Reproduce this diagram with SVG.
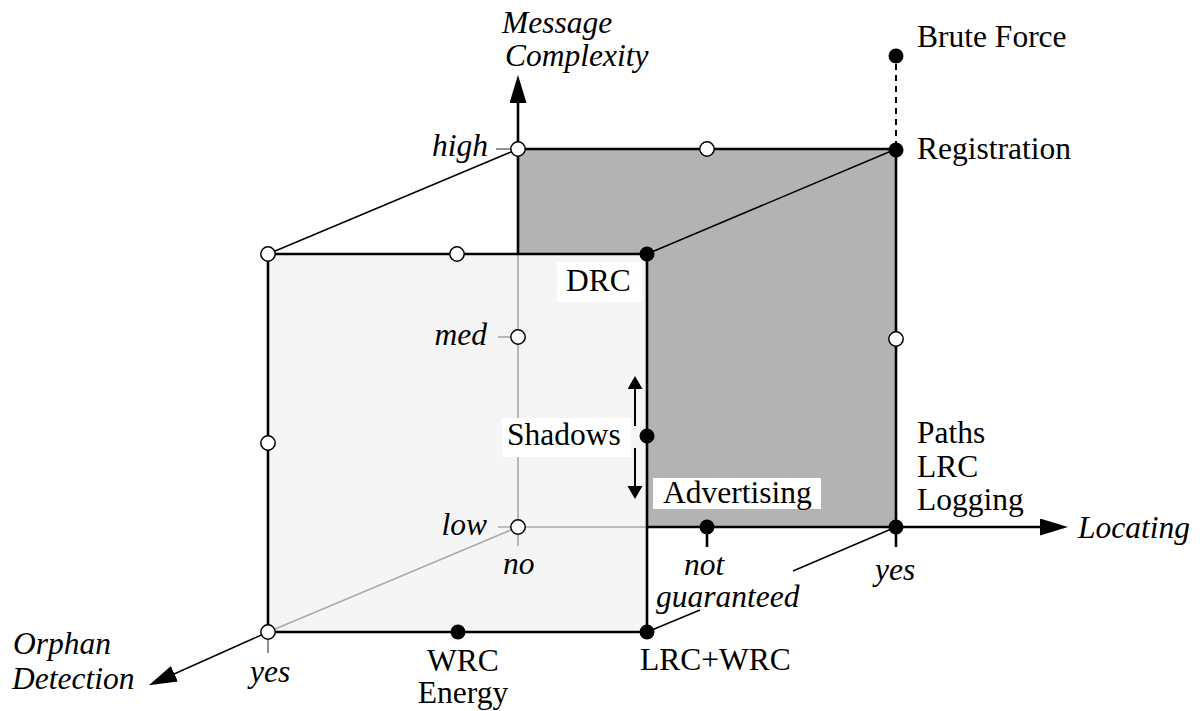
<svg xmlns="http://www.w3.org/2000/svg" width="1200" height="711" viewBox="0 0 1200 711">
<style>
.t{font-family:"Liberation Serif","Times New Roman",serif;font-size:31.5px;fill:#000}
.i{font-style:italic}
.e{stroke:#000;stroke-width:2.6;fill:none}
.d{stroke:#000;stroke-width:1.5;fill:none}
.g{stroke:#aaa;stroke-width:1.6;fill:none}
.k{stroke:#777;stroke-width:1.6;fill:none}
.o{fill:#fff;stroke:#000;stroke-width:1.5}
.f{fill:#000}
.box{fill:#fff}
</style>
<defs>
<marker id="ah" markerUnits="userSpaceOnUse" markerWidth="30" markerHeight="18" refX="1" refY="8.5" orient="auto">
<path d="M0,0 L28,8.5 L0,17 z" fill="#000"/>
</marker>
<marker id="as" markerUnits="userSpaceOnUse" markerWidth="15" markerHeight="16" refX="1" refY="7.5" orient="auto">
<path d="M0,0 L13,7.5 L0,15 z" fill="#000"/>
</marker>
</defs>
<rect width="1200" height="711" fill="#fff"/>
<g id="faces">
<rect x="518" y="149" width="378" height="378" fill="#b3b3b3"/>
<rect x="268" y="254" width="379" height="378" fill="#f5f5f5"/>
</g>
<g id="connectors">
<line class="g" x1="518" y1="254" x2="518" y2="546"/>
<line class="g" x1="498" y1="527" x2="647" y2="527"/>
<line class="g" x1="268" y1="632" x2="518" y2="527"/>
<line class="g" x1="498" y1="337" x2="511" y2="337"/>
<line class="k" x1="496" y1="149" x2="511" y2="149"/>
<line class="k" x1="268" y1="638" x2="268" y2="653"/>
<line class="e" x1="518" y1="254" x2="518" y2="102" marker-end="url(#ah)"/>
<line class="e" x1="518" y1="149" x2="896" y2="149"/>
<line class="e" x1="896" y1="149" x2="896" y2="547"/>
<line class="e" x1="647" y1="527" x2="1041" y2="527" marker-end="url(#ah)"/>
<line class="e" x1="707" y1="527" x2="707" y2="547"/>
<line class="e" x1="268" y1="254" x2="647" y2="254"/>
<line class="e" x1="268" y1="254" x2="268" y2="632"/>
<line class="e" x1="268" y1="632" x2="647" y2="632"/>
<line class="e" x1="647" y1="254" x2="647" y2="632"/>
<line class="d" x1="268" y1="632" x2="173.5" y2="674.2" marker-end="url(#ah)"/>
<line class="d" x1="268" y1="254" x2="518" y2="149"/>
<line class="d" x1="647" y1="254" x2="896" y2="149"/>
<line class="d" x1="647" y1="632" x2="700" y2="610"/>
<line class="d" x1="793" y1="571" x2="896" y2="527"/>
<line stroke="#000" stroke-width="2" stroke-dasharray="6,5" x1="896" y1="64" x2="896" y2="143"/>
<line stroke="#000" stroke-width="2" x1="635" y1="426" x2="635" y2="388" marker-end="url(#as)"/>
<line stroke="#000" stroke-width="2" x1="635" y1="448" x2="635" y2="487" marker-end="url(#as)"/>
</g>
<g id="axis-message">
<text class="t i" x="502" y="33">Message</text>
<text class="t i" x="505" y="66">Complexity</text>
</g>
<g id="axis-locating"><text class="t i" x="1078" y="538">Locating</text></g>
<g id="axis-orphan">
<text class="t i" x="13" y="654">Orphan</text>
<text class="t i" x="12" y="689">Detection</text>
</g>
<g id="n-high"><circle class="o" cx="518" cy="149" r="7.2"/><text class="t i" x="488" y="156" text-anchor="end">high</text></g>
<g id="n-high-mid"><circle class="o" cx="707" cy="149" r="7.2"/></g>
<g id="n-registration"><circle class="f" cx="896" cy="150" r="7.5"/><text class="t" x="917" y="159">Registration</text></g>
<g id="n-brute"><circle class="f" cx="896" cy="56" r="7.5"/><text class="t" x="917" y="47">Brute Force</text></g>
<g id="n-front-tl"><circle class="o" cx="268" cy="254" r="7.2"/></g>
<g id="n-front-top-mid"><circle class="o" cx="457" cy="254" r="7.2"/></g>
<g id="n-drc"><rect class="box" x="557" y="262" width="85" height="40"/><circle class="f" cx="647" cy="254" r="7.5"/><text class="t" x="566" y="291">DRC</text></g>
<g id="n-med"><circle class="o" cx="518" cy="337" r="7.2"/><text class="t i" x="487" y="345" text-anchor="end">med</text></g>
<g id="n-right-mid"><circle class="o" cx="896" cy="339" r="7.2"/></g>
<g id="n-left-mid"><circle class="o" cx="268" cy="443" r="7.2"/></g>
<g id="n-shadows"><rect class="box" x="502" y="418" width="129" height="39"/><circle class="f" cx="647" cy="436" r="7.5"/><text class="t" x="507" y="445">Shadows</text></g>
<g id="n-advertising"><rect class="box" x="653" y="478" width="168" height="31"/><text class="t" x="663" y="503">Advertising</text></g>
<g id="n-low"><circle class="o" cx="518" cy="527" r="7.2"/><text class="t i" x="487" y="535" text-anchor="end">low</text><text class="t i" x="503" y="574">no</text></g>
<g id="n-notguaranteed"><circle class="f" cx="707" cy="527" r="7.5"/><text class="t i" x="684" y="575">not</text><text class="t i" x="656" y="607">guaranteed</text></g>
<g id="n-paths"><circle class="f" cx="896" cy="527" r="7.5"/><text class="t" x="917" y="443">Paths</text><text class="t" x="917" y="477">LRC</text><text class="t" x="917" y="510">Logging</text><text class="t i" x="875" y="580">yes</text></g>
<g id="n-yes-orphan"><circle class="o" cx="268" cy="632" r="7.2"/><text class="t i" x="250" y="682">yes</text></g>
<g id="n-wrc"><circle class="f" cx="458" cy="632" r="7.5"/><text class="t" x="463" y="671" text-anchor="middle">WRC</text><text class="t" x="463" y="703" text-anchor="middle">Energy</text></g>
<g id="n-lrcwrc"><circle class="f" cx="647" cy="632" r="7.5"/><text class="t" x="640" y="670">LRC+WRC</text></g>
</svg>
